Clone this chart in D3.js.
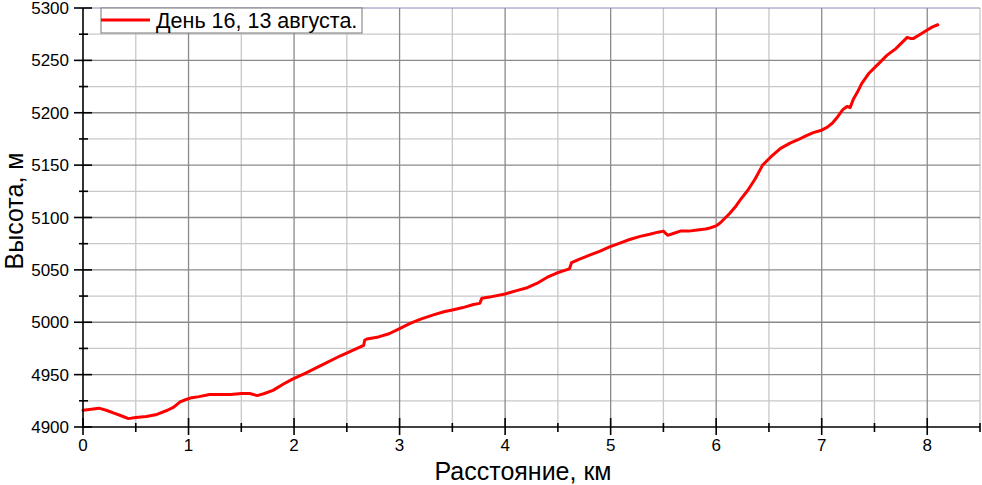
<!DOCTYPE html>
<html><head><meta charset="utf-8">
<script src="https://cdn.jsdelivr.net/npm/d3@7/dist/d3.min.js"></script>
<style>body{margin:0;background:#fff}svg{display:block}</style>
</head><body>
<svg id="c" width="982" height="485"></svg>
<script>
const seriesName = "День 16, 13 августа.";
const xTitle = "Расстояние, км";
const yTitle = "Высота, м";
const xTicks = [0,1,2,3,4,5,6,7,8];
const yTicks = [4900,4950,5000,5050,5100,5150,5200,5250,5300];
const dist = [0,0.08,0.15,0.22,0.3,0.38,0.43,0.5,0.6,0.7,0.8,0.86,0.92,0.97,1.03,1.1,1.2,1.3,1.4,1.5,1.58,1.65,1.72,1.8,1.9,1.99,2.1,2.2,2.3,2.44,2.55,2.66,2.67,2.69,2.8,2.9,3.0,3.1,3.2,3.32,3.42,3.51,3.6,3.7,3.76,3.78,3.85,4.0,4.1,4.21,4.3,4.4,4.49,4.55,4.61,4.63,4.7,4.8,4.9,4.99,5.1,5.18,5.28,5.37,5.45,5.5,5.54,5.6,5.66,5.74,5.82,5.9,5.94,6.0,6.04,6.08,6.13,6.18,6.23,6.3,6.37,6.44,6.52,6.61,6.7,6.77,6.85,6.92,6.99,7.05,7.1,7.15,7.2,7.24,7.27,7.3,7.34,7.38,7.45,7.53,7.62,7.7,7.76,7.81,7.84,7.87,7.92,8.0,8.05,8.1];
const elev = [4916,4917,4918,4916,4913,4910,4908,4909,4910,4912,4916,4919,4924,4926,4928,4929,4931,4931,4931,4932,4932,4930,4932,4935,4941,4946,4951,4956,4961,4968,4973,4978,4983,4984,4986,4989,4994,4999,5003,5007,5010,5012,5014,5017,5018,5023,5024,5027,5030,5033,5037,5043,5047,5049,5051,5057,5060,5064,5068,5072,5076,5079,5082,5084,5086,5087,5083,5085,5087,5087,5088,5089,5090,5092,5095,5099,5104,5110,5117,5126,5137,5150,5158,5166,5171,5174,5178,5181,5183,5186,5190,5196,5203,5206,5205,5213,5220,5228,5238,5246,5255,5261,5267,5272,5271,5271,5274,5279,5282,5284];

const svg = d3.select("#c");
const L = 83, R = 980, T = 8, B = 427;
const x = d3.scaleLinear().domain([0,8.5]).range([L,R]);
const y = d3.scaleLinear().domain([4900,5300]).range([B,T]);
const font = "'Liberation Sans', Arial, sans-serif";

// minor grid
const xMinor = d3.range(0.5, 8.6, 1);
const yMinor = d3.range(4925, 5300, 50);
svg.append("g").selectAll("line").data(xMinor).join("line")
  .attr("x1", d=>x(d)).attr("x2", d=>x(d)).attr("y1", T).attr("y2", B)
  .attr("stroke", "#c8c8c8").attr("stroke-width", 1.3);
svg.append("g").selectAll("line").data(yMinor).join("line")
  .attr("x1", L).attr("x2", R).attr("y1", d=>y(d)).attr("y2", d=>y(d))
  .attr("stroke", "#c8c8c8").attr("stroke-width", 1.3);
// major grid
svg.append("g").selectAll("line").data(xTicks.slice(1)).join("line")
  .attr("x1", d=>x(d)).attr("x2", d=>x(d)).attr("y1", T).attr("y2", B)
  .attr("stroke", "#8a8a8a").attr("stroke-width", 1.3);
svg.append("g").selectAll("line").data(yTicks.slice(1,-1)).join("line")
  .attr("x1", L).attr("x2", R).attr("y1", d=>y(d)).attr("y2", d=>y(d))
  .attr("stroke", "#8a8a8a").attr("stroke-width", 1.3);
// top border
svg.append("line").attr("x1", L).attr("x2", R).attr("y1", T).attr("y2", T)
  .attr("stroke", "#8888b8").attr("stroke-width", 1);

// data line
const line = d3.line().x((d,i)=>x(dist[i])).y(d=>y(d));
svg.append("path").datum(elev).attr("d", line)
  .attr("fill","none").attr("stroke","#ff0000").attr("stroke-width",3)
  .attr("stroke-linejoin","round").attr("stroke-linecap","round");

// axes
const xAxisG = svg.append("g").attr("transform", `translate(0,${B})`);
xAxisG.append("line").attr("x1", L).attr("x2", R).attr("stroke","#000").attr("stroke-width",1.6);
xAxisG.selectAll(".maj").data(xTicks).join("line").attr("class","maj")
  .attr("x1", d=>x(d)).attr("x2", d=>x(d)).attr("y1",-9).attr("y2",8)
  .attr("stroke","#000").attr("stroke-width",1.6);
xAxisG.selectAll(".min").data(xMinor).join("line").attr("class","min")
  .attr("x1", d=>x(d)).attr("x2", d=>x(d)).attr("y1",-4).attr("y2",5)
  .attr("stroke","#000").attr("stroke-width",1.6);
xAxisG.selectAll("text").data(xTicks).join("text")
  .attr("x", d=>x(d)).attr("y", 24).attr("text-anchor","middle")
  .attr("font-family", font).attr("font-size", 17).text(d=>d);

const yAxisG = svg.append("g").attr("transform", `translate(${L},0)`);
yAxisG.append("line").attr("y1", T).attr("y2", B).attr("stroke","#000").attr("stroke-width",1.6);
yAxisG.selectAll(".maj").data(yTicks).join("line").attr("class","maj")
  .attr("x1",-9).attr("x2",9).attr("y1", d=>y(d)).attr("y2", d=>y(d))
  .attr("stroke","#000").attr("stroke-width",1.6);
yAxisG.selectAll(".min").data(yMinor).join("line").attr("class","min")
  .attr("x1",-4).attr("x2",5).attr("y1", d=>y(d)).attr("y2", d=>y(d))
  .attr("stroke","#000").attr("stroke-width",1.6);
yAxisG.selectAll("text").data(yTicks).join("text")
  .attr("x", -14).attr("y", d=>y(d)+6).attr("text-anchor","end")
  .attr("font-family", font).attr("font-size", 17).text(d=>d);

// titles
svg.append("text").attr("x", 523).attr("y", 480).attr("text-anchor","middle")
  .attr("font-family", font).attr("font-size", 25).text(xTitle);
svg.append("text").attr("transform", `translate(23,211) rotate(-90)`)
  .attr("text-anchor","middle").attr("font-family", font).attr("font-size", 25).text(yTitle);

// legend
const lg = svg.append("g");
lg.append("rect").attr("x",101).attr("y",8).attr("width",261).attr("height",25)
  .attr("fill","#fff").attr("stroke","#777").attr("stroke-width",1);
lg.append("line").attr("x1",101).attr("x2",150).attr("y1",20).attr("y2",20)
  .attr("stroke","#ff0000").attr("stroke-width",3);
lg.append("text").attr("x",156).attr("y",28).attr("font-family",font).attr("font-size",21.5).text(seriesName);
</script>
</body></html>
